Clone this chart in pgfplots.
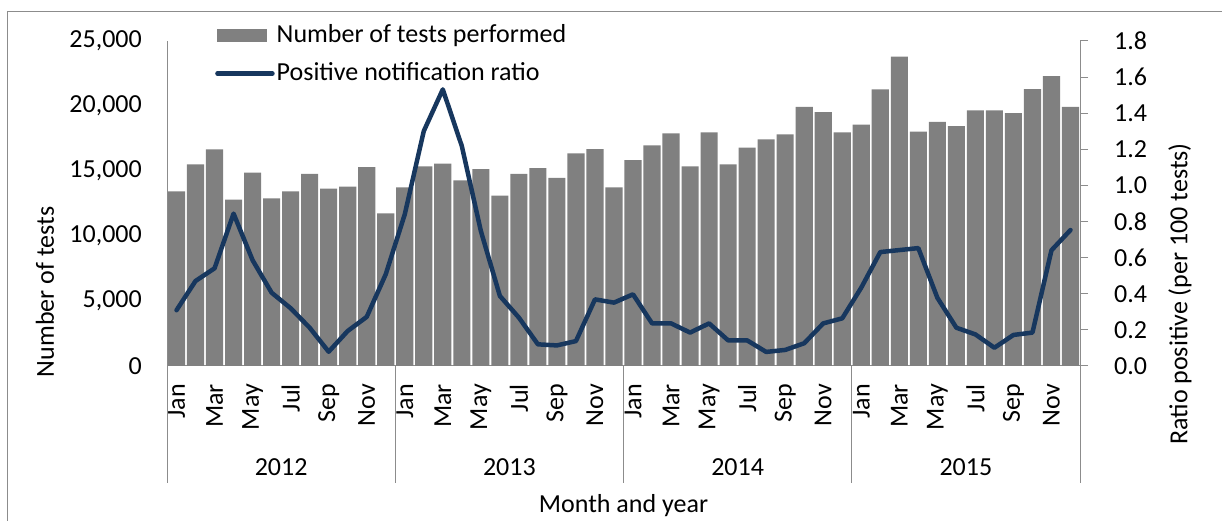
\documentclass[border=0pt]{standalone}
\usepackage{pgfplots}
\pgfplotsset{compat=1.18}
\usepackage{fontspec}
\setmainfont{Carlito}
\definecolor{barcol}{HTML}{808080}
\definecolor{linecol}{HTML}{17375E}
\definecolor{axcol}{HTML}{8C8C8C}
\pgfplotstableread{
x tests
0 13430
1 15510
2 16660
3 12790
4 14870
5 12890
6 13430
7 14770
8 13640
9 13790
10 15300
11 11740
12 13740
13 15360
14 15560
15 14280
16 15150
17 13100
18 14770
19 15230
20 14480
21 16360
22 16690
23 13740
24 15840
25 16970
26 17890
27 15360
28 17970
29 15510
30 16790
31 17430
32 17820
33 19940
34 19530
35 17970
36 18560
37 21280
38 23790
39 18020
40 18770
41 18460
42 19660
43 19660
44 19460
45 21300
46 22300
47 19940
}\teststable
\pgfplotstableread{
x ratio
0 0.309
1 0.471
2 0.541
3 0.844
4 0.586
5 0.406
6 0.320
7 0.212
8 0.079
9 0.194
10 0.272
11 0.508
12 0.840
13 1.301
14 1.532
15 1.218
16 0.748
17 0.388
18 0.268
19 0.120
20 0.114
21 0.138
22 0.369
23 0.351
24 0.397
25 0.236
26 0.236
27 0.185
28 0.236
29 0.142
30 0.142
31 0.078
32 0.089
33 0.126
34 0.236
35 0.264
36 0.434
37 0.631
38 0.642
39 0.653
40 0.378
41 0.212
42 0.175
43 0.101
44 0.172
45 0.185
46 0.641
47 0.753
}\ratiotable
\begin{document}
\fontsize{26bp}{31bp}\selectfont
\begin{tikzpicture}
\useasboundingbox (0bp,0bp) rectangle (1222bp,521bp);
\draw[axcol, line width=1bp] (7bp,0bp) -- (7bp,509bp) -- (1222bp,509bp);
\begin{axis}[
  at={(167bp,155bp)}, anchor=south west,
  scale only axis, width=913bp, height=325bp,
  xmin=-0.5, xmax=47.5, ymin=0, ymax=25000,
  axis x line*=bottom, axis y line*=left,
  axis line style={axcol, line width=1bp},
  ybar, bar width=0.9,
  major tick length=0pt,
  xtick={0,2,...,46},
  xticklabels={Jan,Mar,May,Jul,Sep,Nov,Jan,Mar,May,Jul,Sep,Nov,Jan,Mar,May,Jul,Sep,Nov,Jan,Mar,May,Jul,Sep,Nov},
  xticklabel style={rotate=90, anchor=east, inner sep=0pt},
  xticklabel shift=18bp,
  ytick={0,5000,10000,15000,20000,25000},
  scaled y ticks=false,
  yticklabel style={inner sep=0pt, anchor=east, /pgf/number format/.cd, fixed, 1000 sep={,}, assume math mode=true},
  yticklabel shift=25bp,
  clip=false,
]
\addplot[fill=barcol, draw=none] table[x=x, y=tests] {\teststable};
\draw[axcol, line width=1bp] (axis cs:-0.5,0) -- ++(0bp,-117bp);
\draw[axcol, line width=1bp] (axis cs:11.5,0) -- ++(0bp,-117bp);
\draw[axcol, line width=1bp] (axis cs:23.5,0) -- ++(0bp,-117bp);
\draw[axcol, line width=1bp] (axis cs:35.5,0) -- ++(0bp,-117bp);
\draw[axcol, line width=1bp] (axis cs:47.5,0) -- ++(0bp,-117bp);
\node at (axis cs:5.5,0) [yshift=-101bp] {2012};
\node at (axis cs:17.5,0) [yshift=-101bp] {2013};
\node at (axis cs:29.5,0) [yshift=-101bp] {2014};
\node at (axis cs:41.5,0) [yshift=-101bp] {2015};
\end{axis}
\begin{axis}[
  at={(167bp,155bp)}, anchor=south west,
  scale only axis, width=913bp, height=325bp,
  xmin=-0.5, xmax=47.5, ymin=0, ymax=1.8,
  axis x line=none, axis y line*=right,
  axis line style={axcol, line width=1bp},
  ytick={0,0.2,0.4,0.6,0.8,1.0,1.2,1.4,1.6,1.8},
  tick align=outside, major tick length=8bp,
  ytick style={axcol, line width=1bp},
  yticklabel style={inner sep=0pt, anchor=west, /pgf/number format/.cd, fixed, fixed zerofill, precision=1, assume math mode=true},
  yticklabel shift=26bp,
  clip=false,
  legend style={at={(0.0526,1.057)}, anchor=north west, draw=none, fill=none, row sep=12bp, inner sep=0pt},
  legend cell align=left,
]
\addlegendimage{legend image code/.code={\fill[barcol] (0bp,-6bp) rectangle (49bp,6bp);}}
\addlegendentry{Number of tests performed}
\addplot[linecol, line width=4.5bp, line join=round, line cap=round,
  legend image code/.code={\draw[linecol, line width=4.5bp, line cap=round] (0bp,0bp) -- (55bp,0bp);}]
  table[x=x, y=ratio] {\ratiotable};
\addlegendentry{Positive notification ratio}
\end{axis}
\node[rotate=90] at (45bp,229bp) {Number of tests};
\node[rotate=90] at (1180bp,227bp) {Ratio positive (per 100 tests)};
\node at (623.5bp,15bp) {Month and year};
\end{tikzpicture}
\end{document}
